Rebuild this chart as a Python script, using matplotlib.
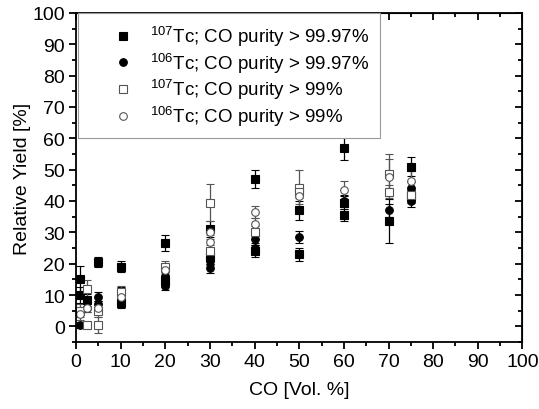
import matplotlib
matplotlib.use('Agg')
import matplotlib.pyplot as plt
from matplotlib.lines import Line2D
from matplotlib.ticker import MultipleLocator

plt.rcParams['font.family'] = ['Liberation Sans', 'DejaVu Sans']
plt.rcParams['mathtext.fontset'] = 'custom'
plt.rcParams['mathtext.rm'] = 'Liberation Sans'

# 107Tc, CO purity > 99.97 % (filled squares)
sq_hi_x = [1, 1, 2.5, 5, 10, 10, 20, 20, 30, 30, 40, 40, 50, 50, 60, 60, 60, 70, 75, 75]
sq_hi_y = [15, 10, 8.4, 20.5, 19, 7.5, 26.5, 14.5, 31, 22, 47, 24, 37, 23, 57, 39.5, 35.5, 33.5, 51, 41.5]
sq_hi_e = [4.2, 2.5, 2, 1.7, 1.8, 1.5, 2.5, 1.5, 2.5, 2, 3, 2, 3, 2, 4, 2, 2, 7, 3, 2]

# 106Tc, CO purity > 99.97 % (filled circles)
ci_hi_x = [1, 2.5, 5, 5, 10, 20, 20, 30, 30, 40, 40, 50, 60, 70, 75, 75]
ci_hi_y = [0.5, 6, 9.5, 7, 11, 13, 16, 18.5, 21, 28, 25, 28.5, 40, 37, 44, 40]
ci_hi_e = [1, 1.5, 1.5, 1, 1.5, 1.5, 1.5, 1.5, 1.5, 2, 1.5, 2, 2, 2, 2, 2]

# 107Tc, CO purity > 99 % (open squares)
sq_lo_x = [1, 2.5, 2.5, 5, 5, 10, 20, 30, 30, 40, 50, 50, 70, 70, 75]
sq_lo_y = [5, 11.9, 0.5, 5, 0.5, 11, 19, 39.5, 24, 30, 44, 43, 48.5, 43, 42]
sq_lo_e = [2, 3, 1, 2, 2.5, 2, 2, 6, 2, 2, 6, 2, 6.5, 2, 2]

# 106Tc, CO purity > 99 % (open circles)
ci_lo_x = [1, 2.5, 5, 10, 20, 30, 30, 40, 40, 50, 60, 70, 75]
ci_lo_y = [4, 6, 6, 9.5, 18, 30, 27, 36.5, 32.5, 41.5, 43.5, 47.5, 46.5]
ci_lo_e = [2, 1.5, 1.5, 2, 2, 2, 2, 2, 2, 2.5, 3, 6, 3]

labels = [r'$^{107}$Tc; CO purity > 99.97%', r'$^{106}$Tc; CO purity > 99.97%',
          r'$^{107}$Tc; CO purity > 99%', r'$^{106}$Tc; CO purity > 99%']

fig = plt.figure(figsize=(5.39, 4.10), dpi=100)
ax = fig.add_axes([0.141, 0.1634, 0.8283, 0.8025])

grey = '#555555'
series = [
    (sq_hi_x, sq_hi_y, sq_hi_e, 's', 'black', 'black'),
    (ci_hi_x, ci_hi_y, ci_hi_e, 'o', 'black', 'black'),
    (sq_lo_x, sq_lo_y, sq_lo_e, 's', 'white', grey),
    (ci_lo_x, ci_lo_y, ci_lo_e, 'o', 'white', grey),
]
handles = []
for (x, y, e, m, fc, ec), lab in zip(series, labels):
    ax.errorbar(x, y, yerr=e, fmt=m, ms=5.5, mfc=fc, mec=ec, mew=0.8,
                ecolor=ec, elinewidth=0.9, capsize=3, capthick=0.9)
    handles.append(Line2D([], [], ls='none', marker=m, ms=5.5, mfc=fc, mec=ec, mew=0.8, label=lab))

ax.set_xlim(0, 100)
ax.set_ylim(-5, 100)
ax.xaxis.set_major_locator(MultipleLocator(10))
ax.xaxis.set_minor_locator(MultipleLocator(5))
ax.yaxis.set_major_locator(MultipleLocator(10))
ax.yaxis.set_minor_locator(MultipleLocator(5))
ax.tick_params(which='both', direction='out', width=1.3, labelsize=14, pad=3)
ax.tick_params(which='major', length=5)
ax.tick_params(which='minor', length=3)
for s in ax.spines.values():
    s.set_linewidth(1.3)

# inward ticks on top and right
ax_t = ax.secondary_xaxis('top')
ax_t.xaxis.set_major_locator(MultipleLocator(10))
ax_t.xaxis.set_minor_locator(MultipleLocator(5))
ax_t.tick_params(which='both', direction='in', width=1.3, labeltop=False)
ax_t.tick_params(which='major', length=5)
ax_t.tick_params(which='minor', length=3)
ax_r = ax.secondary_yaxis('right')
ax_r.yaxis.set_major_locator(MultipleLocator(10))
ax_r.yaxis.set_minor_locator(MultipleLocator(5))
ax_r.tick_params(which='both', direction='in', width=1.3, labelright=False)
ax_r.tick_params(which='major', length=5)
ax_r.tick_params(which='minor', length=3)

ax.set_xlabel('CO [Vol. %]', fontsize=14, labelpad=8)
ax.set_ylabel('Relative Yield [%]', fontsize=14)
ax.yaxis.set_label_coords(-0.1, 0.5)

leg = ax.legend(handles=handles, loc='upper left', bbox_to_anchor=(0.005, 1.0),
                borderaxespad=0, fontsize=13.5, frameon=True, fancybox=False,
                edgecolor='#999999', framealpha=1, borderpad=0.55,
                handlelength=3.7, handletextpad=-0.4, labelspacing=0.1)
leg.get_frame().set_linewidth(0.8)

fig.savefig('out.png', dpi=100)
